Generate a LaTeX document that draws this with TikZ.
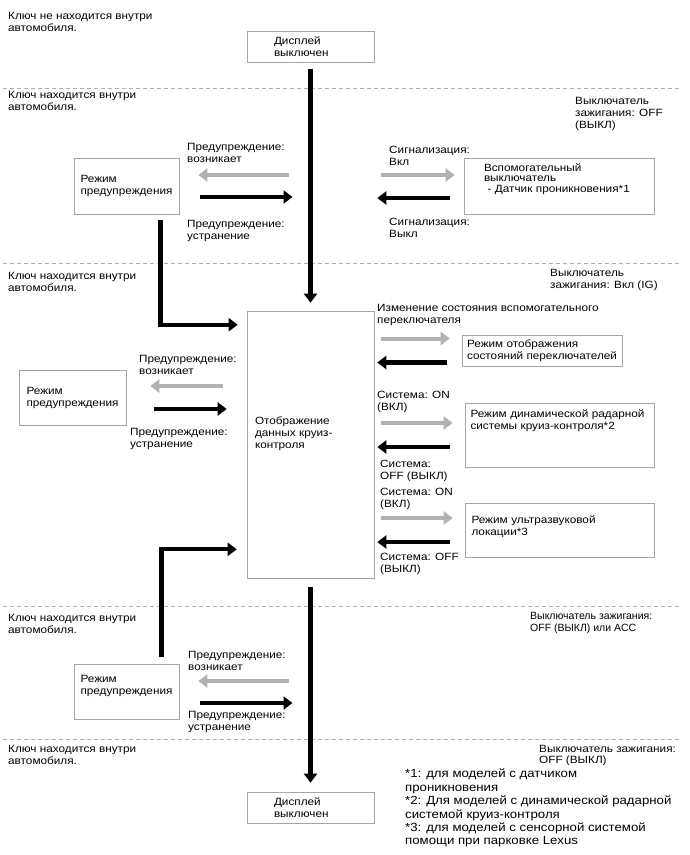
\documentclass[tikz,border=0pt]{standalone}
\usepackage{fontspec}
\setmainfont[FakeStretch=1.12]{Liberation Sans}
\newfontfamily\plainsans{Liberation Sans}
\usepackage{tikz}
\usetikzlibrary{arrows.meta, calc, positioning}

\definecolor{BoxGray}{RGB}{165,165,165}
\definecolor{ArrGray}{RGB}{178,178,178}
\definecolor{SepGray}{RGB}{175,175,175}
\newcommand{\pad}[1]{\rule[-#1]{0pt}{#1}}

\begin{document}
\begin{tikzpicture}[x=1pt, y=-1pt,
      every node/.style={font=\fontsize{10.5}{12}\selectfont, inner sep=0pt},
      txt/.style={anchor=north west, align=left},
      modebox/.style={draw=BoxGray, line width=0.6pt, align=left, inner xsep=5pt},
      sepline/.style={draw=SepGray, line width=0.6pt, dash pattern=on 4pt off 3pt},
      blkarr/.style={draw=black, line width=4.2pt,
                     -{Triangle[length=9pt, width=13pt]}},
      grayarr/.style={draw=ArrGray, line width=4pt,
                      -{Triangle[length=9pt, width=13pt]}}
    ]
      \useasboundingbox (0,0) rectangle (690,855);

      % zone separators
      \foreach \yy in {88, 263, 606, 739}
        \draw[sepline] (3,\yy) -- (680,\yy);

      % boxes
      \node[modebox, minimum width=127pt, minimum height=31pt, text width=73pt] (off1) at (310.5,46.5) {Дисплей\\выключен};
      \node[modebox, minimum width=105pt, minimum height=56pt] (warn1) at (126.5,186) {Режим\\предупреждения};
      \node[modebox, minimum width=190pt, minimum height=56pt, text width=150pt, font=\fontsize{10.5}{10.5}\selectfont] (sens) at (559,186)
            {Вспомогательный\\выключатель\\\ - Датчик проникновения*1\pad{16pt}};
      \node[modebox, minimum width=127pt, minimum height=267pt, text width=111pt] (cruise) at (310.5,444.5)
            {Отображение\\данных круиз-\\контроля\pad{24pt}};
      \node[modebox, minimum width=154pt, minimum height=31pt] (swmode) at (542,350.5)
            {Режим отображения\\состояний переключателей};
      \node[modebox, minimum width=189pt, minimum height=64pt, text width=178pt] (radar) at (559.5,435)
            {Режим динамической радарной\\системы круиз-контроля*2\pad{30pt}};
      \node[modebox, minimum width=189pt, minimum height=54pt, text width=176pt] (ultra) at (559.5,530)
            {Режим ультразвуковой\\локации*3\pad{8pt}};
      \node[modebox, minimum width=107pt, minimum height=55pt] (warn2) at (72.5,397.5) {Режим\\предупреждения};
      \node[modebox, minimum width=105pt, minimum height=55pt] (warn3) at (126.5,691.5)
            {Режим\\предупреждения\pad{13pt}};
      \node[modebox, minimum width=127pt, minimum height=31pt, text width=73pt] (off2) at (310.5,807.5) {Дисплей\\выключен};

      % zone texts
      \node[txt] (key0) at (8,12)   {Ключ не находится внутри\\автомобиля.};
      \node[txt] (key1) at (8,91)   {Ключ находится внутри\\автомобиля.};
      \node[txt] (key2) at (8,272)  {Ключ находится внутри\\автомобиля.};
      \node[txt] (key3) at (8,614)  {Ключ находится внутри\\автомобиля.};
      \node[txt] (key4) at (8,745)  {Ключ находится внутри\\автомобиля.};
      \node[txt] (ign1) at (575,97) {Выключатель\\зажигания: OFF\\(ВЫКЛ)};
      \node[txt] (ign2) at (550,269) {Выключатель\\зажигания: Вкл (IG)};
      \node[txt, font=\plainsans\fontsize{10.5}{12}\selectfont] (ign3) at (530,612) {Выключатель зажигания:\\OFF (ВЫКЛ) или ACC};
      \node[txt, font=\fontsize{10.5}{11}\selectfont] (ign4) at (539,745) {Выключатель зажигания:\\OFF (ВЫКЛ)};

      % arrow labels
      \node[txt] (won1)  at (187,143) {Предупреждение:\\возникает};
      \node[txt] (woff1) at (187,220) {Предупреждение:\\устранение};
      \node[txt] (alon)  at (389,146) {Сигнализация:\\Вкл};
      \node[txt] (aloff) at (389,218) {Сигнализация:\\Выкл};
      \node[txt] (swchg) at (377,304) {Изменение состояния вспомогательного\\переключателя};
      \node[txt] (won2)  at (139,355) {Предупреждение:\\возникает};
      \node[txt] (woff2) at (130,428) {Предупреждение:\\устранение};
      \node[txt] (sonA)  at (377,391) {Система: ON\\(ВКЛ)};
      \node[txt] (soffA) at (380,460) {Система:\\OFF (ВЫКЛ)};
      \node[txt] (sonB)  at (380,488) {Система: ON\\(ВКЛ)};
      \node[txt] (soffB) at (380,553) {Система: OFF\\(ВЫКЛ)};
      \node[txt] (won3)  at (188,651) {Предупреждение:\\возникает};
      \node[txt] (woff3) at (188,711) {Предупреждение:\\устранение};

      % footnotes
      \node[txt, font=\fontsize{11.8}{13.4}\selectfont] (notes) at (405,769)
            {*1: для моделей с датчиком\\проникновения\\*2: Для моделей с динамической радарной\\системой круиз-контроля\\*3: для моделей с сенсорной системой\\помощи при парковке Lexus};

      % main flow
      \draw[blkarr, shorten <=7pt, shorten >=8pt] (off1.south) -- (cruise.north);
      \draw[blkarr, shorten <=9pt, shorten >=9pt] (cruise.south) -- (off2.north);

      % top zone
      \draw[grayarr, shorten <=22pt, shorten >=19pt] ([yshift=11pt]warn1.east -| off1.south) -- ([yshift=11pt]warn1.east);
      \draw[blkarr, shorten <=21pt, shorten >=18pt] ([yshift=-11pt]warn1.east) -- ([yshift=-11pt]warn1.east -| off1.south);
      \draw[grayarr, shorten <=7pt, shorten >=9pt] ([yshift=11pt]sens.west -| cruise.east) -- ([yshift=11pt]sens.west);
      \draw[blkarr, shorten <=14pt, shorten >=3pt] ([yshift=-12pt]sens.west) -- ([yshift=-12pt]sens.west -| cruise.east);
      \draw[blkarr, shorten >=9pt] ([xshift=34pt, yshift=-6pt]warn1.south) |- ([yshift=-14pt]cruise.north west);

      % ignition on zone
      \foreach \m in {swmode, radar, ultra} {
        \draw[grayarr, shorten <=7pt, shorten >=12pt] ([yshift=12pt]\m.west -| cruise.east) -- ([yshift=12pt]\m.west);
        \draw[blkarr, shorten <=15pt, shorten >=3pt] ([yshift=-12pt]\m.west) -- ([yshift=-12pt]\m.west -| cruise.east);
      }
      \draw[grayarr, shorten <=24pt, shorten >=24pt] ([yshift=11.5pt]cruise.west |- warn2.east) -- ([yshift=11.5pt]warn2.east);
      \draw[blkarr, shorten <=28pt, shorten >=20pt] ([yshift=-11.5pt]warn2.east) -- ([yshift=-11.5pt]cruise.west |- warn2.east);
      \draw[blkarr, shorten >=10pt] ([xshift=35pt, yshift=7pt]warn3.north) |- ([yshift=29pt]cruise.south west);

      % bottom zone
      \draw[grayarr, shorten <=22pt, shorten >=19pt] ([yshift=10.5pt]warn3.east -| off2.north) -- ([yshift=10.5pt]warn3.east);
      \draw[blkarr, shorten <=21pt, shorten >=18pt] ([yshift=-11.5pt]warn3.east) -- ([yshift=-11.5pt]warn3.east -| off2.north);
    \end{tikzpicture}
\end{document}
